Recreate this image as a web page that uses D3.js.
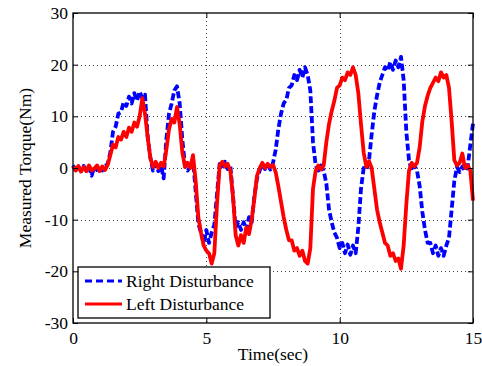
<!DOCTYPE html>
<html>
<head>
<meta charset="utf-8">
<script src="https://cdn.jsdelivr.net/npm/d3@7"></script>
<style>
  html, body { margin: 0; padding: 0; background: #fff; }
  svg { display: block; font-family: "Liberation Serif", "Times New Roman", serif; }
  svg text { font-family: "Liberation Serif", "Times New Roman", serif; font-size: 17.5px; fill: #000; }
</style>
</head>
<body>
<div id="chart"></div>
<script>
const dt = 0.1;
const rightDisturbance = [
  0.5, -0.4, 0.3, -0.6, 0.4, -0.5, 0.2, -1.5, 0.3, -0.4,
  0.4, -0.5, 0.3, 0.8, 3.0, 7.0, 8.0, 10.5, 10.8, 12.8,
  12.0, 13.8, 12.5, 14.5, 13.0, 14.8, 13.5, 14.2, 6.0, 2.0,
  -0.5, 0.8, -0.6, 0.5, -2.0, 5.5, 10.5, 12.5, 15.0, 15.8,
  12.5, 5.5, 0.5, -0.5, 0.3, 1.8, -4.5, -10.8, -12.5, -14.5,
  -12.0, -14.5, -12.5, -11.0, -5.0, 0.8, 0.0, 1.2, -0.2, 0.5,
  -5.5, -11.5, -10.5, -12.0, -10.5, -12.0, -9.5, -10.5, -5.5, -2.0,
  -0.5, 0.8, -0.2, 0.6, -0.3, 1.0, 3.5, 7.5, 10.5, 12.5,
  13.2, 15.5, 16.0, 18.0, 17.0, 19.0, 17.5, 19.5, 18.0, 15.0,
  5.0, 0.5, -0.5, 0.5, -0.5, -3.0, -8.0, -10.5, -12.5, -13.5,
  -15.5, -14.5, -16.5, -14.8, -16.8, -15.0, -16.5, -11.5, -4.0, 0.0,
  -0.3, 1.5, 6.5, 11.0, 14.0, 16.5, 18.0, 19.5, 18.8, 20.5,
  19.0, 20.8, 19.5, 21.5, 17.0, 7.0, 1.5, -0.5, 0.5, -0.5,
  -3.5, -8.5, -12.0, -14.5, -14.5, -16.5, -15.0, -17.0, -15.5, -17.0,
  -15.0, -13.5, -8.0, -2.5, 0.2, -0.8, 0.3, -0.6, 0.2, 4.5,
  8.6
];
const leftDisturbance = [
  0.3, -0.5, 0.4, -0.7, 0.2, -0.6, 0.5, -0.5, -0.1, 0.5,
  -0.6, 0.3, -0.4, 0.6, 2.5, 4.5, 4.0, 6.0, 5.5, 7.0,
  6.0, 7.8, 7.0, 8.8, 8.0, 10.0, 13.5, 10.5, 6.0, 2.0,
  0.2, 1.2, 0.0, 1.0, 0.3, 3.5, 7.5, 9.5, 8.8, 11.8,
  8.5, 3.0, 0.2, 1.0, 0.0, 2.5, -2.5, -9.5, -12.5, -15.0,
  -16.0, -16.5, -18.5, -16.5, -7.0, 0.5, 1.2, 0.3, 0.8, -0.5,
  -5.5, -13.0, -15.0, -13.0, -14.5, -11.5, -12.8, -10.0, -6.0, -1.5,
  0.0, 1.0, 0.0, 0.8, 0.2, 0.6, -0.8, -3.5, -6.5, -9.5,
  -12.0, -14.0, -14.0, -16.0, -15.5, -17.0, -16.0, -18.0, -18.5, -15.5,
  -4.0, -0.5, 0.5, -0.3, 0.5, 5.0, 8.5, 11.0, 13.0, 15.5,
  16.0, 17.5, 17.0, 18.5, 18.0, 19.5, 18.0, 14.5, 8.5, 3.0,
  0.2, 1.3, 0.0, -4.0, -8.0, -10.5, -12.5, -14.5, -15.0, -17.0,
  -16.5, -18.0, -17.5, -19.5, -15.0, -7.0, -0.5, 1.0, 0.3, 1.0,
  4.0, 9.0, 12.0, 14.0, 15.5, 16.5, 17.5, 16.8, 18.5, 17.5,
  18.0, 15.5, 9.0, 1.5, 0.5, 1.0, 2.8, 0.0, 0.5, -0.5,
  -6.3
];
const xTicks = [0, 5, 10, 15];
const yTicks = [-30, -20, -10, 0, 10, 20, 30];
const seriesNames = ["Right Disturbance", "Left Disturbance"];

const W = 482, H = 366;
const M = { top: 13, right: 9, bottom: 43, left: 73 };

const svg = d3.select("#chart").append("svg").attr("width", W).attr("height", H);
const x = d3.scaleLinear().domain([0, 15]).range([M.left, W - M.right]);
const y = d3.scaleLinear().domain([-30, 30]).range([H - M.bottom, M.top]);

// dotted grid
const grid = svg.append("g").attr("stroke", "#444").attr("stroke-width", 1).attr("stroke-dasharray", "1,3");
grid.selectAll(".gx").data(xTicks.slice(1, -1)).join("line")
  .attr("x1", (d) => Math.round(x(d)) + 0.5).attr("x2", (d) => Math.round(x(d)) + 0.5)
  .attr("y1", y(30)).attr("y2", y(-30));
grid.selectAll(".gy").data(yTicks.slice(1, -1)).join("line")
  .attr("y1", (d) => Math.round(y(d)) + 0.5).attr("y2", (d) => Math.round(y(d)) + 0.5)
  .attr("x1", x(0)).attr("x2", x(15));

const line = d3.line().x((d, i) => x(i * dt)).y((d) => y(d));
const plot = svg.append("g");
plot.append("path").datum(rightDisturbance).attr("d", line)
  .attr("fill", "none").attr("stroke", "#0000ff").attr("stroke-width", 3.8)
  .attr("stroke-dasharray", "7,3").attr("stroke-linejoin", "round");
plot.append("path").datum(leftDisturbance).attr("d", line)
  .attr("fill", "none").attr("stroke", "#ff0000").attr("stroke-width", 3.8)
  .attr("stroke-linejoin", "round");

// axes, ticks inward on all four sides
const tickLen = 5;
const fmt = (d) => String(d);
const clean = (g) => { g.attr("font-family", null).attr("font-size", null); g.select(".domain").remove(); };
svg.append("g").attr("transform", `translate(0,${y(-30)})`)
  .call(d3.axisBottom(x).tickValues(xTicks).tickSize(-tickLen).tickPadding(9).tickFormat(fmt))
  .call(clean);
svg.append("g").attr("transform", `translate(0,${y(30)})`)
  .call(d3.axisTop(x).tickValues(xTicks).tickSize(-tickLen).tickFormat(""))
  .call(clean);
svg.append("g").attr("transform", `translate(${x(0)},0)`)
  .call(d3.axisLeft(y).tickValues(yTicks).tickSize(-tickLen).tickPadding(5).tickFormat(fmt))
  .call(clean);
svg.append("g").attr("transform", `translate(${x(15)},0)`)
  .call(d3.axisRight(y).tickValues(yTicks).tickSize(-tickLen).tickFormat(""))
  .call(clean);
svg.selectAll(".tick line").attr("stroke", "#000");
svg.selectAll(".tick text").attr("fill", "#000");

svg.append("rect").attr("x", x(0)).attr("y", y(30))
  .attr("width", x(15) - x(0)).attr("height", y(-30) - y(30))
  .attr("fill", "none").attr("stroke", "#000").attr("stroke-width", 1.3);

svg.append("text").attr("x", (x(0) + x(15)) / 2).attr("y", 360)
  .attr("text-anchor", "middle").text("Time(sec)");
svg.append("text").attr("transform", `translate(31,${(y(30) + y(-30)) / 2}) rotate(-90)`)
  .attr("text-anchor", "middle").text("Measured Torque(Nm)");

// legend
const lg = svg.append("g").attr("transform", "translate(78,267)");
lg.append("rect").attr("width", 192).attr("height", 51).attr("fill", "#fff")
  .attr("stroke", "#000").attr("stroke-width", 1.3);
const styles = [{ c: "#0000ff", dash: "7,4" }, { c: "#ff0000", dash: null }];
seriesNames.forEach((name, i) => {
  const ly = 14 + i * 23;
  lg.append("line").attr("x1", 7).attr("x2", 44).attr("y1", ly).attr("y2", ly)
    .attr("stroke", styles[i].c).attr("stroke-width", 3).attr("stroke-dasharray", styles[i].dash);
  lg.append("text").attr("x", 48).attr("y", ly + 6).text(name);
});
</script>
</body>
</html>
